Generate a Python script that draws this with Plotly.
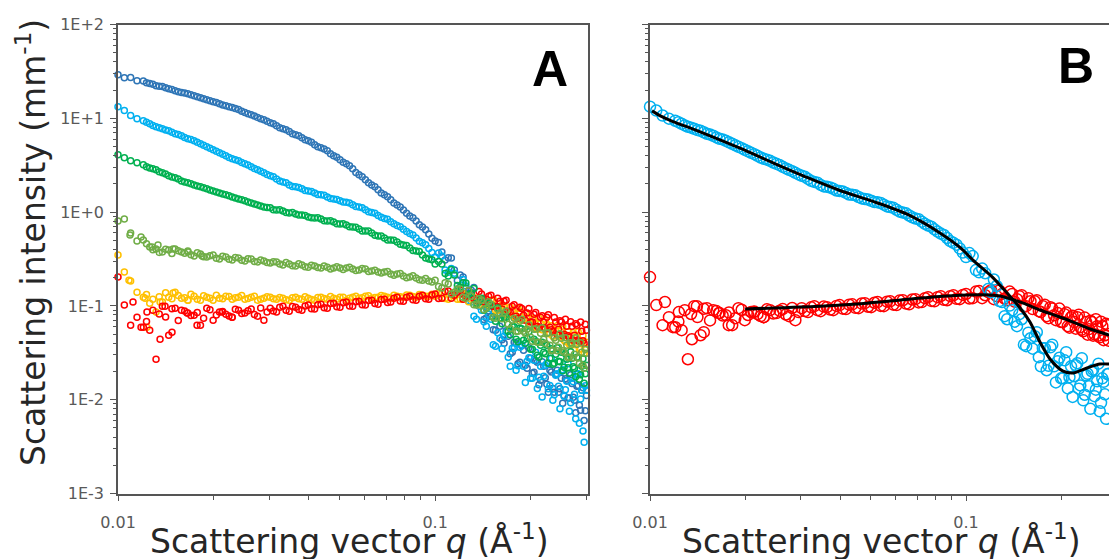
import plotly.graph_objects as go

# ---------------- data ----------------
q_vals = [0.01000, 0.01047, 0.01096, 0.01148, 0.01202, 0.01259, 0.01318, 0.01380, 0.01445, 0.01514,
          0.01585, 0.01660, 0.01738, 0.01820, 0.01905, 0.01995, 0.02089, 0.02188, 0.02291, 0.02399,
          0.02512, 0.02630, 0.02754, 0.02884, 0.03020, 0.03162, 0.03311, 0.03467, 0.03631, 0.03802,
          0.03981, 0.04169, 0.04365, 0.04571, 0.04786, 0.05012, 0.05248, 0.05495, 0.05754, 0.06026,
          0.06310, 0.06607, 0.06918, 0.07244, 0.07586, 0.07943, 0.08318, 0.08710, 0.09120, 0.09550,
          0.100, 0.105, 0.110, 0.115, 0.120, 0.125, 0.130, 0.135, 0.140, 0.145,
          0.150, 0.155, 0.160, 0.165, 0.170, 0.175, 0.180, 0.185, 0.190, 0.195,
          0.200, 0.205, 0.210, 0.215, 0.220, 0.225, 0.230, 0.235, 0.240, 0.245,
          0.250, 0.255, 0.260, 0.265, 0.270, 0.275, 0.280, 0.285, 0.290, 0.295,
          0.300]

# extra points lying between the ones above
q_low_half = [0.01230, 0.01288, 0.01349, 0.01413, 0.01479, 0.01549, 0.01622, 0.01698, 0.01778, 0.01862,
              0.01950, 0.02042, 0.02138, 0.02239, 0.02344, 0.02455, 0.02570, 0.02692, 0.02818, 0.02951]
q_mid_half = [0.03090, 0.03236, 0.03388, 0.03548, 0.03715, 0.03890, 0.04074, 0.04266, 0.04467, 0.04677,
              0.04898, 0.05129, 0.05370, 0.05623, 0.05888, 0.06166, 0.06457, 0.06761, 0.07079, 0.07413,
              0.07762, 0.08128, 0.08511, 0.08913, 0.09333, 0.09772]
q_hi_half = [0.1025, 0.1075, 0.1125, 0.1175, 0.1225, 0.1275, 0.1325, 0.1375, 0.1425, 0.1475,
             0.1525, 0.1575, 0.1625, 0.1675, 0.1725, 0.1775, 0.1825, 0.1875, 0.1925, 0.1975,
             0.2025, 0.2075, 0.2125, 0.2175, 0.2225, 0.2275, 0.2325, 0.2375, 0.2425, 0.2475,
             0.2525, 0.2575, 0.2625, 0.2675, 0.2725, 0.2775, 0.2825, 0.2875, 0.2925, 0.2975]

i_dark_blue = [29.2, 27.0, 27.3, 25.2, 25.0, 23.5, 22.3, 21.8, 20.7, 19.7,
               18.8, 18.3, 17.4, 16.6, 15.8, 15.0, 14.3, 13.6, 13.0, 12.4,
               11.5, 10.9, 10.2, 9.66, 8.98, 8.35, 7.76, 7.22, 6.68, 6.20,
               5.76, 5.22, 4.85, 4.51, 3.98, 3.61, 3.27, 2.89, 2.50, 2.21,
               1.95, 1.73, 1.53, 1.35, 1.19, 1.055, 0.910, 0.806, 0.695, 0.584,
               0.492, 0.376, 0.327, 0.241, 0.213, 0.155, 0.147, 0.107, 0.110, 0.0741,
               0.0777, 0.0551, 0.0608, 0.0399, 0.0475, 0.0321, 0.0399, 0.0251, 0.0337, 0.0216,
               0.0276, 0.0196, 0.0251, 0.0161, 0.0227, 0.0146, 0.0206, 0.0132, 0.0187, 0.0120,
               0.0169, 0.0111, 0.0161, 0.0104, 0.0149, 0.00985, 0.0139, 0.00873, 0.0126, 0.00601,
               0.0111]
i_dark_blue_low = [24.0, 23.1, 22.0, 21.2, 20.3, 19.2, 18.6, 17.8, 17.0, 16.2,
                   15.4, 14.7, 13.9, 13.3, 12.7, 11.9, 11.2, 10.6, 9.9, 9.3]
i_dark_blue_mid = [8.75, 7.95, 7.55, 6.85, 6.50, 5.90, 5.55, 4.98, 4.72, 4.20,
                   3.85, 3.40, 3.12, 2.65, 2.38, 2.05, 1.86, 1.60, 1.46, 1.25,
                   1.13, 0.97, 0.87, 0.735, 0.650, 0.525]
i_dark_blue_hi = [0.474, 0.308, 0.324, 0.186, 0.203, 0.127, 0.157, 0.0995, 0.0714, 0.0880,
                  0.0558, 0.0787, 0.0436, 0.0545, 0.0309, 0.0410, 0.0242, 0.0376, 0.0233, 0.0358,
                  0.0191, 0.0260, 0.0144, 0.0254, 0.0171, 0.0120, 0.0197, 0.0120, 0.0206, 0.0131,
                  0.00915, 0.0167, 0.0104, 0.0185, 0.0106, 0.00724, 0.0142, 0.00770, 0.0134, 0.00761]

i_light_blue = [13.3, 12.1, 10.7, 9.91, 9.42, 8.75, 8.13, 7.74, 7.36, 6.84,
                6.51, 6.05, 5.76, 5.35, 4.97, 4.62, 4.29, 3.98, 3.70, 3.52,
                3.27, 3.04, 2.82, 2.62, 2.44, 2.26, 2.10, 1.95, 1.86, 1.77,
                1.68, 1.60, 1.53, 1.45, 1.38, 1.32, 1.27, 1.20, 1.13, 1.06,
                0.990, 0.920, 0.855, 0.790, 0.720, 0.655, 0.590, 0.530, 0.470, 0.410,
                0.332, 0.340, 0.228, 0.223, 0.140, 0.163, 0.110, 0.0721, 0.0901, 0.0608,
                0.0721, 0.0372, 0.0452, 0.0475, 0.0284, 0.0354, 0.0206, 0.0362, 0.0227, 0.0257,
                0.0169, 0.0263, 0.0132, 0.0227, 0.0178, 0.0245, 0.0142, 0.00985, 0.0182, 0.0139,
                0.0201, 0.0109, 0.0157, 0.00751, 0.0169, 0.0114, 0.0187, 0.00561, 0.0126, 0.00351,
                0.0126]
i_light_blue_low = [9.1, 8.4, 7.95, 7.5, 7.1, 6.7, 6.25, 5.95, 5.55, 5.15,
                    4.80, 4.45, 4.15, 3.82, 3.62, 3.38, 3.17, 2.92, 2.73, 2.52]
i_light_blue_mid = [2.38, 2.15, 2.06, 1.88, 1.83, 1.70, 1.66, 1.54, 1.51, 1.40,
                    1.36, 1.28, 1.25, 1.15, 1.11, 1.01, 0.97, 0.88, 0.84, 0.75,
                    0.70, 0.62, 0.57, 0.49, 0.45, 0.37]
i_light_blue_hi = [0.366, 0.241, 0.250, 0.151, 0.191, 0.1125, 0.0778, 0.1007, 0.0679, 0.0817,
                   0.0386, 0.0518, 0.0350, 0.0525, 0.0227, 0.0354, 0.0230, 0.0386, 0.0153, 0.0280,
                   0.0169, 0.0321, 0.0174, 0.0107, 0.0233, 0.0131, 0.0277, 0.0113, 0.0189, 0.00799,
                   0.0209, 0.0128, 0.0242, 0.00926, 0.0155, 0.00625, 0.0189, 0.0102, 0.00465, 0.0141]

i_green = [4.08, 3.79, 3.52, 3.35, 3.19, 2.96, 2.82, 2.62, 2.44, 2.32,
           2.15, 2.05, 1.95, 1.86, 1.77, 1.68, 1.60, 1.53, 1.45, 1.38,
           1.32, 1.25, 1.19, 1.135, 1.11, 1.055, 1.03, 0.980, 0.955, 0.933,
           0.889, 0.867, 0.846, 0.805, 0.785, 0.748, 0.730, 0.695, 0.661, 0.630,
           0.600, 0.556, 0.530, 0.504, 0.480, 0.446, 0.414, 0.385, 0.348, 0.316,
           0.279, 0.279, 0.208, 0.213, 0.159, 0.175, 0.137, 0.107, 0.121, 0.0946,
           0.102, 0.0688, 0.0740, 0.0759, 0.0537, 0.0608, 0.0441, 0.0579, 0.0431, 0.0452,
           0.0345, 0.0441, 0.0298, 0.0381, 0.0321, 0.0381, 0.0277, 0.0239, 0.0305, 0.0257,
           0.0321, 0.0222, 0.0270, 0.0191, 0.0277, 0.0216, 0.0284, 0.0165, 0.0228, 0.0150,
           0.0233]
i_green_low = [3.05, 2.90, 2.70, 2.55, 2.37, 2.25, 2.10, 2.00, 1.90, 1.82,
               1.72, 1.64, 1.56, 1.49, 1.41, 1.35, 1.28, 1.22, 1.16, 1.12]
i_green_mid = [1.06, 1.06, 0.99, 0.99, 0.93, 0.92, 0.87, 0.87, 0.81, 0.81,
               0.75, 0.75, 0.70, 0.69, 0.63, 0.63, 0.565, 0.555, 0.505, 0.50,
               0.455, 0.44, 0.39, 0.38, 0.325, 0.31]
i_green_hi = [0.297, 0.221, 0.244, 0.165, 0.177, 0.132, 0.153, 0.110, 0.0901, 0.106,
              0.0759, 0.0947, 0.0646, 0.0759, 0.0494, 0.0601, 0.0416, 0.0572, 0.0400, 0.0531,
              0.0345, 0.0421, 0.0284, 0.0410, 0.0309, 0.0245, 0.0350, 0.0245, 0.0358, 0.0254,
              0.0204, 0.0309, 0.0219, 0.0325, 0.0225, 0.0176, 0.0280, 0.0185, 0.0274, 0.0189]

i_light_green = [0.805, 0.846, 0.600, 0.492, 0.504, 0.425, 0.404, 0.376, 0.394, 0.404,
                 0.376, 0.385, 0.340, 0.357, 0.332, 0.348, 0.316, 0.332, 0.308, 0.324,
                 0.301, 0.316, 0.294, 0.301, 0.286, 0.294, 0.273, 0.279, 0.266, 0.273,
                 0.259, 0.266, 0.253, 0.259, 0.253, 0.253, 0.253, 0.247, 0.241, 0.247,
                 0.235, 0.230, 0.230, 0.219, 0.219, 0.208, 0.203, 0.198, 0.188, 0.184,
                 0.188, 0.155, 0.171, 0.140, 0.151, 0.121, 0.127, 0.102, 0.115, 0.0946,
                 0.104, 0.0740, 0.0838, 0.0838, 0.0639, 0.0704, 0.0537, 0.0688, 0.0537, 0.0565,
                 0.0463, 0.0565, 0.0410, 0.0512, 0.0441, 0.0512, 0.0381, 0.0337, 0.0431, 0.0363,
                 0.0452, 0.0321, 0.0381, 0.0284, 0.0391, 0.0305, 0.0391, 0.0244, 0.0321, 0.0216,
                 0.0313]
i_light_green_low = [0.460, 0.398, 0.372, 0.401, 0.362, 0.388, 0.365, 0.352, 0.368, 0.335,
                     0.342, 0.322, 0.338, 0.314, 0.328, 0.306, 0.318, 0.297, 0.308, 0.290]
i_light_green_mid = [0.296, 0.280, 0.290, 0.268, 0.281, 0.262, 0.272, 0.256, 0.266, 0.248,
                     0.262, 0.245, 0.258, 0.238, 0.250, 0.232, 0.240, 0.224, 0.232, 0.212,
                     0.222, 0.200, 0.210, 0.190, 0.196, 0.180]
i_light_green_hi = [0.161, 0.177, 0.134, 0.151, 0.124, 0.146, 0.103, 0.120, 0.0912, 0.111,
                    0.0750, 0.0924, 0.0731, 0.0880, 0.0572, 0.0740, 0.0537, 0.0722, 0.0512, 0.0631,
                    0.0421, 0.0572, 0.0410, 0.0586, 0.0400, 0.0518, 0.0333, 0.0458, 0.0333, 0.0506,
                    0.0333, 0.0458, 0.0280, 0.0405, 0.0280, 0.0458, 0.0280, 0.0405, 0.0233, 0.0345]
q_light_green_extra = [0.01091, 0.01182, 0.01280, 0.01337, 0.01491, 0.01663, 0.01841]
i_light_green_extra = [0.570, 0.542, 0.425, 0.446, 0.404, 0.376, 0.340]

i_yellow = [0.348, 0.230, 0.184, 0.140, 0.124, 0.107, 0.0859, 0.110, 0.124, 0.140,
            0.121, 0.115, 0.127, 0.115, 0.124, 0.115, 0.121, 0.127, 0.118, 0.124,
            0.118, 0.124, 0.115, 0.121, 0.124, 0.118, 0.121, 0.115, 0.124, 0.118,
            0.121, 0.115, 0.124, 0.118, 0.121, 0.124, 0.115, 0.124, 0.121, 0.127,
            0.121, 0.124, 0.127, 0.121, 0.127, 0.124, 0.130, 0.124, 0.130, 0.127,
            0.127, 0.137, 0.118, 0.127, 0.118, 0.130, 0.118, 0.104, 0.118, 0.104,
            0.115, 0.0901, 0.0993, 0.0993, 0.0817, 0.0901, 0.0722, 0.0879, 0.0722, 0.0740,
            0.0623, 0.0722, 0.0565, 0.0655, 0.0593, 0.0639, 0.0512, 0.0475, 0.0565, 0.0487,
            0.0565, 0.0431, 0.0487, 0.0391, 0.0487, 0.0400, 0.0487, 0.0345, 0.0410, 0.0313,
            0.0410]
i_yellow_low = [0.132, 0.118, 0.125, 0.138, 0.119, 0.129, 0.122, 0.133, 0.118, 0.128,
                0.121, 0.130, 0.119, 0.126, 0.122, 0.129, 0.120, 0.127, 0.118, 0.125]
i_yellow_mid = [0.119, 0.123, 0.116, 0.122, 0.119, 0.125, 0.117, 0.123, 0.120, 0.126,
                0.118, 0.124, 0.121, 0.127, 0.122, 0.128, 0.123, 0.129, 0.124, 0.130,
                0.125, 0.131, 0.126, 0.132, 0.127, 0.133]
i_yellow_hi = [0.137, 0.120, 0.135, 0.118, 0.135, 0.111, 0.123, 0.103, 0.120, 0.102,
               0.117, 0.0901, 0.102, 0.0807, 0.0970, 0.0778, 0.0936, 0.0704, 0.0838, 0.0616,
               0.0740, 0.0586, 0.0740, 0.0558, 0.0704, 0.0506, 0.0616, 0.0458, 0.0616, 0.0470,
               0.0608, 0.0416, 0.0531, 0.0376, 0.0518, 0.0386, 0.0531, 0.0350, 0.0482, 0.0341]
q_yellow_extra = [0.01083, 0.01217, 0.01234, 0.01357, 0.01491, 0.01663]
i_yellow_extra = [0.188, 0.121, 0.0593, 0.110, 0.137, 0.115]

i_red = [0.203, 0.102, 0.0623, 0.0759, 0.0593, 0.0551, 0.0270, 0.0993, 0.0487, 0.0946,
         0.0901, 0.0838, 0.0796, 0.0623, 0.0946, 0.0704, 0.0859, 0.0817, 0.0759, 0.0901,
         0.0838, 0.0924, 0.0778, 0.0704, 0.0946, 0.0859, 0.0993, 0.0879, 0.0970, 0.0901,
         0.102, 0.0924, 0.104, 0.0946, 0.107, 0.0970, 0.110, 0.0993, 0.112, 0.102,
         0.115, 0.104, 0.118, 0.110, 0.124, 0.112, 0.127, 0.115, 0.130, 0.118,
         0.134, 0.121, 0.144, 0.130, 0.147, 0.127, 0.134, 0.115, 0.134, 0.118,
         0.130, 0.0993, 0.112, 0.112, 0.0879, 0.0993, 0.0778, 0.0970, 0.0796, 0.0838,
         0.0672, 0.0817, 0.0608, 0.0759, 0.0672, 0.0759, 0.0593, 0.0537, 0.0672, 0.0565,
         0.0672, 0.0499, 0.0608, 0.0463, 0.0608, 0.0487, 0.0623, 0.0421, 0.0537, 0.0400,
         0.0551]
i_red_low = [0.0680, 0.0900, 0.0820, 0.0760, 0.0930, 0.0700, 0.0880, 0.0790, 0.0850, 0.0740,
             0.0910, 0.0800, 0.0870, 0.0780, 0.0920, 0.0830, 0.0890, 0.0810, 0.0950, 0.0860]
i_red_mid = [0.0880, 0.0965, 0.0900, 0.0985, 0.0915, 0.100, 0.0935, 0.103, 0.0955, 0.106,
             0.0980, 0.108, 0.100, 0.111, 0.103, 0.114, 0.106, 0.117, 0.109, 0.121,
             0.113, 0.124, 0.116, 0.127, 0.119, 0.131]
i_red_hi = [0.120, 0.142, 0.121, 0.140, 0.118, 0.146, 0.120, 0.142, 0.111, 0.127,
            0.0983, 0.121, 0.0924, 0.115, 0.0859, 0.103, 0.0740, 0.0936, 0.0704, 0.0936,
            0.0672, 0.0848, 0.0586, 0.0787, 0.0572, 0.0807, 0.0558, 0.0750, 0.0494, 0.0696,
            0.0482, 0.0722, 0.0482, 0.0679, 0.0431, 0.0646, 0.0426, 0.0672, 0.0426, 0.0639]
q_red_extra = [0.01115, 0.01182, 0.01234, 0.01357, 0.01407, 0.01480, 0.01651, 0.01775, 0.02128, 0.02289]
i_red_extra = [0.110, 0.0593, 0.0859, 0.0441, 0.0993, 0.0525, 0.0838, 0.0623, 0.0859, 0.0759]

# model fits shown in panel B
q_fit_blue = [0.01015, 0.01091, 0.01183, 0.01338, 0.01515, 0.01927, 0.0245, 0.0314, 0.0399, 0.0508,
              0.0651, 0.0827, 0.0957, 0.1052, 0.1212, 0.1349, 0.1483, 0.1594, 0.1714, 0.1844,
              0.2028, 0.2182, 0.2415, 0.2654, 0.2835, 0.300]
i_fit_blue = [12.0, 10.4, 9.2, 7.9, 6.7, 4.8, 3.35, 2.34, 1.70, 1.30,
              0.95, 0.60, 0.42, 0.308, 0.203, 0.137, 0.0951, 0.0673, 0.0412, 0.0272,
              0.0202, 0.0193, 0.0218, 0.0240, 0.0240, 0.0238]

q_fit_red = [0.0200, 0.0298, 0.0486, 0.0786, 0.1007, 0.119, 0.128, 0.1516, 0.1714, 0.194,
             0.2182, 0.247, 0.2835, 0.300]
i_fit_red = [0.0927, 0.0973, 0.107, 0.1245, 0.1306, 0.1306, 0.1276, 0.107, 0.0904, 0.0780,
             0.0673, 0.0567, 0.0489, 0.0460]

y_major = [1e-3, 1e-2, 1e-1, 1e0, 1e1, 1e2]
y_major_text = ["1E-3", "1E-2", "1E-1", "1E+0", "1E+1", "1E+2"]
y_minor = [m * 10 ** e for e in range(-3, 2) for m in range(2, 10)]
x_major = [0.01, 0.1]
x_major_text = ["0.01", "0.1"]
x_minor = [0.02, 0.03, 0.04, 0.05, 0.06, 0.07, 0.08, 0.09, 0.2, 0.3]

# ---------------- styling ----------------
W, H = 1109, 559
AX = "#555555"
TICKFONT = dict(family="DejaVu Sans", size=16, color="#595959")
TITLEFONT = dict(family="DejaVu Sans", size=33, color="#262626")


def series(main, low, mid, hi, q_extra=(), i_extra=()):
    xs = q_vals + q_low_half + q_mid_half + q_hi_half + list(q_extra)
    ys = main + low + mid + hi + list(i_extra)
    return xs, ys


fig = go.Figure()

red_xy = series(i_red, i_red_low, i_red_mid, i_red_hi, q_red_extra, i_red_extra)
lblue_xy = series(i_light_blue, i_light_blue_low, i_light_blue_mid, i_light_blue_hi)

seriesA = [(series(i_dark_blue, i_dark_blue_low, i_dark_blue_mid, i_dark_blue_hi), "#2E75B6"),
           (lblue_xy, "#00B0F0"),
           (series(i_yellow, i_yellow_low, i_yellow_mid, i_yellow_hi, q_yellow_extra, i_yellow_extra), "#FFC000"),
           (red_xy, "#FF0000"),
           (series(i_green, i_green_low, i_green_mid, i_green_hi), "#00B050"),
           (series(i_light_green, i_light_green_low, i_light_green_mid, i_light_green_hi,
                   q_light_green_extra, i_light_green_extra), "#70AD47")]
for (xs, ys), c in seriesA:
    fig.add_trace(go.Scatter(x=xs, y=ys, mode="markers", xaxis="x", yaxis="y",
                             marker=dict(symbol="circle-open", size=6, color=c, line=dict(width=1.5, color=c)),
                             cliponaxis=False, showlegend=False, hoverinfo="skip"))

for (xs, ys), c in [(red_xy, "#FF0000"), (lblue_xy, "#00B0F0")]:
    fig.add_trace(go.Scatter(x=xs, y=ys, mode="markers", xaxis="x2", yaxis="y2",
                             marker=dict(symbol="circle-open", size=11, color=c, line=dict(width=1.5, color=c)),
                             cliponaxis=False, showlegend=False, hoverinfo="skip"))
for qq, ii in [(q_fit_blue, i_fit_blue), (q_fit_red, i_fit_red)]:
    fig.add_trace(go.Scatter(x=qq, y=ii, mode="lines", xaxis="x2", yaxis="y2",
                             line=dict(color="black", width=3, shape="spline", smoothing=0.8),
                             cliponaxis=False, showlegend=False, hoverinfo="skip"))


def xaxis(domain, rng, anchor):
    return dict(type="log", domain=domain, range=rng, anchor=anchor, showline=True, linecolor=AX,
                linewidth=1.5, mirror=True, ticks="outside", ticklen=6, tickwidth=1.3, tickcolor=AX,
                tickmode="array", tickvals=x_major, ticktext=x_major_text, tickfont=TICKFONT,
                ticklabelstandoff=8, automargin=False,
                minor=dict(tickmode="array", tickvals=x_minor, ticks="outside", ticklen=5,
                           tickwidth=1.3, tickcolor=AX, showgrid=False),
                showgrid=False, zeroline=False, fixedrange=True)


def yaxis(domain, labels, mirror, anchor):
    return dict(type="log", domain=domain, range=[-3, 2], anchor=anchor, showline=True, linecolor=AX,
                linewidth=1.5, mirror=mirror, ticks="outside", ticklen=6, tickwidth=1.3, tickcolor=AX,
                tickmode="array", tickvals=y_major, ticktext=y_major_text, showticklabels=labels,
                tickfont=TICKFONT, ticklabelstandoff=3, automargin=False,
                minor=dict(tickmode="array", tickvals=y_minor, ticks="outside", ticklen=3.5,
                           tickwidth=1.1, tickcolor=AX, showgrid=False),
                showgrid=False, zeroline=False, fixedrange=True)


ydom = [1 - 493.5 / H, 1 - 24.5 / H]
xdomA = [118 / W, 588 / W]
xdomB = [650 / W, 1.0]

fig.update_layout(
    width=W, height=H, autosize=False,
    margin=dict(l=0, r=0, t=0, b=0, pad=0, autoexpand=False),
    paper_bgcolor="white", plot_bgcolor="white",
    xaxis=xaxis(xdomA, [-2, -0.518], "y"), yaxis=yaxis(ydom, True, True, "x"),
    xaxis2=xaxis(xdomB, [-2, -0.5475], "y2"), yaxis2=yaxis(ydom, False, False, "x2"),
)

ann = [
    dict(text="<b>A</b>", x=550 / W, y=1 - 69 / H, font=dict(family="Liberation Sans", size=50, color="black")),
    dict(text="<b>B</b>", x=1076 / W, y=1 - 66 / H, font=dict(family="Liberation Sans", size=50, color="black")),
    dict(text="Scattering intensity (mm<sup>-1</sup>)", x=31 / W, y=1 - 243 / H, textangle=-90, font=TITLEFONT),
    dict(text="Scattering vector <i>q</i> (Å<sup>-1</sup>)", x=349 / W, y=1 - 539 / H, font=TITLEFONT),
    dict(text="Scattering vector <i>q</i> (Å<sup>-1</sup>)", x=881 / W, y=1 - 539 / H, font=TITLEFONT),
]
for a in ann:
    fig.add_annotation(xref="paper", yref="paper", showarrow=False, xanchor="center", yanchor="middle", **a)

fig.write_html("out.html", config={"displayModeBar": False})
